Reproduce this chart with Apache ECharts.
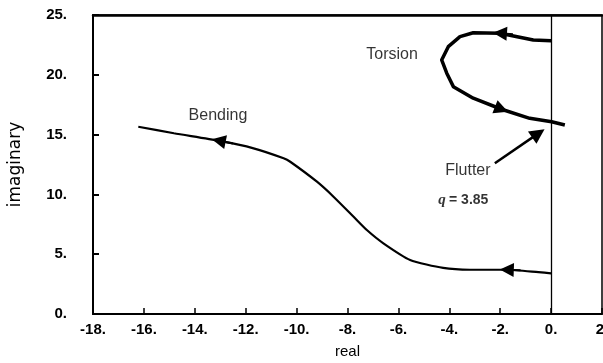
<!DOCTYPE html>
<html>
<head>
<meta charset="utf-8">
<script src="https://cdn.jsdelivr.net/npm/echarts@6/dist/echarts.min.js"></script>
<style>
  html, body { margin: 0; padding: 0; background: #fff; }
  #chart { width: 603px; height: 363px; }
</style>
</head>
<body>
<div id="chart"></div>
<script>
// Root-locus branches in the complex plane (real, imaginary)
const bendingReal = [-16.22, -14.82, -13.06, -11.69, -10.51, -10.25, -9.20, -8.55, -7.76, -7.24, -6.59, -5.54, -4.24, -3.19, -1.74, -0.5, 0];
const bendingImag = [15.66, 15.11, 14.49, 13.85, 13.02, 12.73, 11.06, 9.81, 8.13, 7.02, 5.91, 4.52, 3.85, 3.70, 3.70, 3.50, 3.40];

const torsionReal = [0, -0.70, -2.01, -3.06, -3.58, -4.04, -4.30, -4.10, -3.84, -3.06, -1.95, -0.84, 0.02, 0.54];
const torsionImag = [22.85, 22.91, 23.47, 23.52, 23.19, 22.35, 21.24, 20.13, 19.01, 18.04, 17.12, 16.36, 16.08, 15.80];

// Direction arrows along the branches: [from, to] in data units
const branchArrows = [
  [[-12.5, 14.25], [-13.06, 14.49]],
  [[-1.2, 3.66], [-1.74, 3.70]],
  [[-1.5, 23.40], [-2.01, 23.47]],
  [[-2.4, 17.50], [-1.95, 17.12]]
];

// Flutter pointer
const flutterArrow = [[-2.21, 12.60], [-0.50, 15.10]];

// Text annotations: [real, imag, text]
const annotations = [
  [-13.09, 16.56, 'Bending'],
  [-6.25, 21.69, 'Torsion'],
  [-3.27, 11.96, 'Flutter']
];
const flutterQ = [-3.45, 9.49, 3.85];

const xTicks = { min: -18, max: 2, step: 2 };
const yTicks = { min: 0, max: 25, step: 5 };

const zip = (a, b) => a.map((v, i) => [v, b[i]]);

const tickFont = { color: '#000', fontFamily: 'Liberation Sans', fontWeight: 'bold', fontSize: 15 };

const chart = echarts.init(document.getElementById('chart'), null, { renderer: 'canvas' });

chart.setOption({
  backgroundColor: '#fff',
  animation: false,
  grid: {
    left: 93, top: 15, right: 1, bottom: 49,
    containLabel: false,
    outerBoundsMode: 'none',
    show: true, borderColor: '#000', borderWidth: 1.5, backgroundColor: 'transparent'
  },
  xAxis: [{
    type: 'value',
    min: xTicks.min, max: xTicks.max, interval: xTicks.step,
    axisLine: { show: true, onZero: false, lineStyle: { color: '#000', width: 2 } },
    axisTick: { show: true, inside: true, length: 6, lineStyle: { color: '#000', width: 1.5 } },
    axisLabel: Object.assign({ margin: 8, showMinLabel: true, showMaxLabel: true, formatter: v => v + '.' }, tickFont),
    splitLine: { show: false },
    name: 'real',
    nameLocation: 'middle',
    nameGap: 30,
    nameTextStyle: { color: '#000', fontFamily: 'Liberation Sans', fontSize: 15 }
  }, {
    type: 'value', position: 'top',
    min: xTicks.min, max: xTicks.max,
    axisLine: { show: true, onZero: false, lineStyle: { color: '#000', width: 2.5 } },
    axisTick: { show: false }, axisLabel: { show: false }, splitLine: { show: false }
  }],
  yAxis: {
    type: 'value',
    min: yTicks.min, max: yTicks.max, interval: yTicks.step,
    axisLine: { show: true, onZero: false, lineStyle: { color: '#000', width: 2 } },
    axisTick: { show: true, inside: true, length: 6, lineStyle: { color: '#000', width: 2 } },
    axisLabel: Object.assign({ margin: 26, formatter: v => v + '.' }, tickFont),
    splitLine: { show: false },
    name: 'imaginary',
    nameLocation: 'middle',
    nameGap: 69,
    nameTextStyle: { color: '#000', fontFamily: 'DejaVu Sans', fontSize: 17 }
  },
  series: [
    {
      name: 'Bending',
      type: 'line',
      data: zip(bendingReal, bendingImag),
      showSymbol: false,
      smooth: 0.2,
      lineStyle: { color: '#000', width: 2.2 },
      markLine: {
        silent: true,
        symbol: 'none',
        label: { show: false },
        lineStyle: { color: '#000', width: 1.3, type: 'solid' },
        data: [{ xAxis: 0 }]
      }
    },
    {
      name: 'Torsion',
      type: 'line',
      data: zip(torsionReal, torsionImag),
      showSymbol: false,
      lineStyle: { color: '#000', width: 3.5, join: 'round' }
    },
    {
      type: 'lines',
      coordinateSystem: 'cartesian2d',
      symbol: ['none', 'triangle'],
      symbolSize: [8, 14],
      lineStyle: { color: '#000', width: 2, opacity: 1 },
      data: branchArrows.map(c => ({ coords: c }))
    },
    {
      type: 'lines',
      coordinateSystem: 'cartesian2d',
      symbol: ['none', 'triangle'],
      symbolSize: [9, 15],
      lineStyle: { color: '#000', width: 2.5, opacity: 1 },
      data: [{ coords: flutterArrow }]
    },
    {
      type: 'scatter',
      symbolSize: 0,
      silent: true,
      data: annotations.map(a => ({ value: [a[0], a[1]], name: a[2] })),
      label: {
        show: true, position: 'inside', formatter: p => p.name,
        color: '#000', fontFamily: 'Liberation Sans', fontSize: 16
      }
    },
    {
      type: 'scatter',
      symbolSize: 0,
      silent: true,
      data: [{ value: [flutterQ[0], flutterQ[1]] }],
      label: {
        show: true, position: 'inside',
        formatter: '{q|q} {v|= ' + flutterQ[2].toFixed(2) + '}',
        rich: {
          q: { fontFamily: 'Liberation Serif', fontStyle: 'italic', fontWeight: 'bold', fontSize: 15, color: '#000' },
          v: { fontFamily: 'Liberation Sans', fontWeight: 'bold', fontSize: 14, color: '#000' }
        }
      }
    }
  ]
});
</script>
</body>
</html>
